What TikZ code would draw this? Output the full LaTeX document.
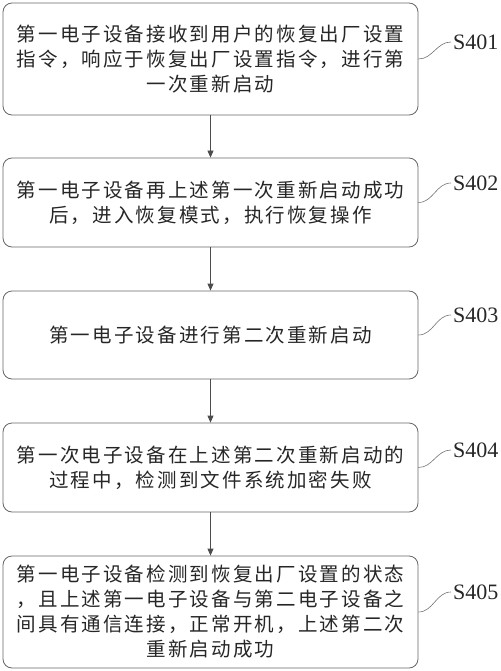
\documentclass[tikz,border=0pt]{standalone}
\usepackage{fontspec}
\setmainfont{Liberation Serif}
\newfontfamily\cjk[LetterSpace=11]{Noto Sans CJK SC}
\usetikzlibrary{arrows.meta}
\begin{document}
\begin{tikzpicture}[x=1pt,y=-1pt,
 stepbox/.style={draw=black!60, line width=0.8pt, rounded corners=9pt, minimum width=415pt, inner sep=0pt, align=center, font=\cjk\fontsize{19.5}{25}\selectfont, text=black!85},
 steplabel/.style={anchor=west, inner sep=0pt, font=\fontsize{22}{24}\selectfont, text=black!85},
 flow/.style={draw=black!70, line width=0.8pt, -{Triangle[length=7pt,width=6pt]}},
 leader/.style={draw=black!55, line width=0.6pt}]
\useasboundingbox (0,0) rectangle (500,671);
\node[stepbox, minimum height=112pt] (b1) at (210.5,59) {第一电子设备接收到用户的恢复出厂设置\\指令，响应于恢复出厂设置指令，进行第\\一次重新启动};
\node[stepbox, minimum height=89pt] (b2) at (210.5,202.5) {第一电子设备再上述第一次重新启动成功\\后，进入恢复模式，执行恢复操作};
\node[stepbox, minimum height=88pt] (b3) at (210.5,335) {第一电子设备进行第二次重新启动};
\node[stepbox, minimum height=89pt] (b4) at (210.5,467.5) {第一次电子设备在上述第二次重新启动的\\过程中，检测到文件系统加密失败};
\node[stepbox, minimum height=112pt] (b5) at (210.5,612) {第一电子设备检测到恢复出厂设置的状态\\，且上述第一电子设备与第二电子设备之\\间具有通信连接，正常开机，上述第二次\\重新启动成功};
\node[steplabel] (l1) at (453,42) {S401};
\node[steplabel] (l2) at (453,183) {S402};
\node[steplabel] (l3) at (453,315) {S403};
\node[steplabel] (l4) at (453,450) {S404};
\node[steplabel] (l5) at (453,592) {S405};
\draw[flow] (b1) -- (b2);
\draw[flow] (b2) -- (b3);
\draw[flow] (b3) -- (b4);
\draw[flow] (b4) -- (b5);
\draw[leader] (b1.east) to[out=0,in=180] ([xshift=-2pt]l1.west);
\draw[leader] (b2.east) to[out=0,in=180] ([xshift=-2pt]l2.west);
\draw[leader] (b3.east) to[out=0,in=180] ([xshift=-2pt]l3.west);
\draw[leader] (b4.east) to[out=0,in=180] ([xshift=-2pt]l4.west);
\draw[leader] (b5.east) to[out=0,in=180] ([xshift=-2pt]l5.west);
\end{tikzpicture}
\end{document}
